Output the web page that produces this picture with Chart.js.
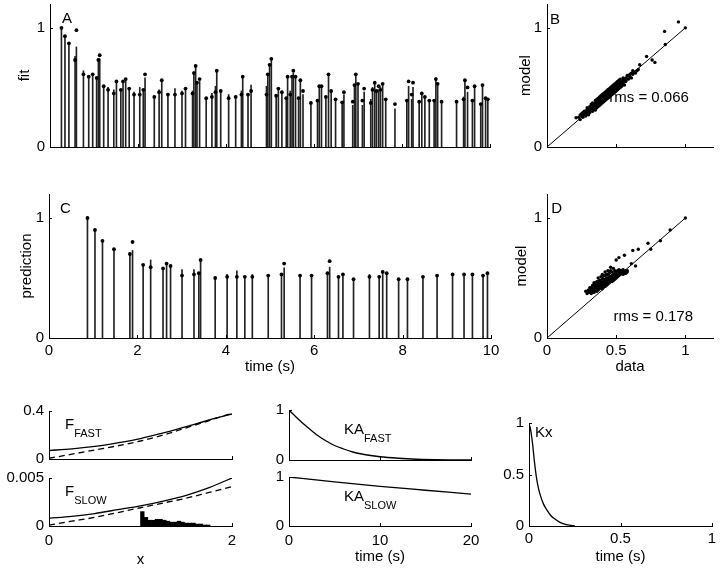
<!DOCTYPE html>
<html><head><meta charset="utf-8">
<script src="https://cdn.jsdelivr.net/npm/chart.js@4"></script>
<style>
html,body{margin:0;padding:0;background:#fff;width:720px;height:573px;overflow:hidden;position:relative}
canvas{position:absolute}
</style></head><body>
<script>
// ---------- Panel A (fit) ----------
const tA = [0.26,0.34,0.43,0.57,0.60,0.76,0.88,0.97,1.06,1.10,1.13,1.22,1.32,1.45,1.51,1.61,1.66,1.72,1.80,1.91,2.04,2.12,2.16,2.37,2.48,2.54,2.68,2.84,3.00,3.08,3.24,3.27,3.31,3.34,3.40,3.55,3.68,3.76,3.79,3.88,4.06,4.22,4.35,4.38,4.50,4.57,4.92,4.95,4.99,5.03,5.14,5.19,5.27,5.37,5.40,5.46,5.50,5.53,5.58,5.65,5.69,5.75,5.93,6.08,6.12,6.17,6.27,6.33,6.39,6.49,6.64,6.68,6.88,6.92,6.95,7.00,7.10,7.14,7.29,7.33,7.38,7.42,7.47,7.51,7.56,7.63,7.84,8.11,8.15,8.22,8.25,8.39,8.45,8.52,8.62,8.73,8.77,8.81,8.90,9.24,9.40,9.43,9.49,9.60,9.65,9.79,9.83,9.90,9.95];
const stemA = [1.00,0.93,0.87,0.76,0.84,0.64,0.60,0.61,0.58,0.73,0.74,0.51,0.50,0.48,0.55,0.48,0.55,0.57,0.50,0.46,0.50,0.48,0.58,0.43,0.48,0.56,0.44,0.49,0.47,0.49,0.47,0.63,0.67,0.55,0.55,0.41,0.45,0.51,0.64,0.47,0.44,0.43,0.47,0.59,0.45,0.52,0.51,0.61,0.69,0.74,0.43,0.50,0.47,0.41,0.59,0.47,0.59,0.62,0.59,0.41,0.56,0.44,0.37,0.39,0.51,0.50,0.42,0.61,0.47,0.39,0.37,0.44,0.35,0.52,0.61,0.53,0.35,0.46,0.40,0.50,0.54,0.47,0.48,0.50,0.53,0.40,0.32,0.39,0.51,0.40,0.50,0.38,0.46,0.42,0.39,0.39,0.58,0.53,0.38,0.38,0.42,0.56,0.46,0.39,0.51,0.36,0.52,0.41,0.40];
const dotA = [1.00,0.93,0.87,0.73,0.98,0.61,0.59,0.61,0.58,0.73,0.77,0.51,0.48,0.45,0.55,0.48,0.55,0.57,0.49,0.44,0.44,0.48,0.61,0.42,0.46,0.56,0.44,0.44,0.45,0.49,0.45,0.62,0.68,0.54,0.57,0.41,0.42,0.46,0.64,0.47,0.41,0.42,0.44,0.59,0.44,0.47,0.44,0.61,0.69,0.74,0.43,0.49,0.46,0.41,0.59,0.44,0.59,0.64,0.59,0.41,0.56,0.47,0.37,0.39,0.51,0.51,0.42,0.61,0.47,0.40,0.375,0.46,0.38,0.52,0.61,0.53,0.39,0.49,0.37,0.48,0.54,0.47,0.51,0.48,0.53,0.40,0.36,0.39,0.55,0.44,0.54,0.38,0.45,0.42,0.39,0.39,0.57,0.53,0.38,0.38,0.40,0.56,0.50,0.39,0.51,0.36,0.52,0.41,0.40];

// ---------- Panel B (model vs data, fit) ----------
const dataB  = [0.21,0.24,0.25,0.26,0.27,0.28,0.28,0.29,0.30,0.30,0.31,0.32,0.32,0.33,0.33,0.34,0.34,0.35,0.35,0.36,0.36,0.37,0.37,0.38,0.38,0.39,0.39,0.40,0.40,0.41,0.41,0.42,0.42,0.43,0.43,0.44,0.44,0.45,0.45,0.46,0.46,0.47,0.47,0.48,0.48,0.49,0.49,0.50,0.50,0.51,0.51,0.52,0.52,0.53,0.53,0.54,0.55,0.56,0.57,0.58,0.59,0.60,0.61,0.62,0.63,0.65,0.72,0.76,0.78,0.855,0.85,0.95,1.00,
  0.23,0.24,0.25,0.26,0.27,0.28,0.29,0.29,0.30,0.31,0.31,0.32,0.33,0.33,0.34,0.35,0.35,0.36,0.36,0.37,0.37,0.38,0.38,0.39,0.39,0.40,0.40,0.41,0.41,0.42,0.42,0.43,0.43,0.44,0.44,0.45,0.45,0.46,0.46,0.47,0.47,0.48,0.48,0.49,0.49,0.50,0.50,0.51,0.51,0.52,0.52,0.53,0.53,0.54,0.54,0.55,0.55,0.56,0.56,0.57,0.58,0.59,0.60,0.61,0.62,0.64,0.66,0.67];
const modelB = [0.245,0.27,0.26,0.29,0.27,0.30,0.28,0.31,0.29,0.32,0.30,0.33,0.31,0.35,0.32,0.34,0.36,0.33,0.37,0.35,0.38,0.36,0.39,0.37,0.40,0.38,0.41,0.39,0.42,0.40,0.43,0.41,0.44,0.42,0.45,0.43,0.46,0.44,0.47,0.45,0.48,0.46,0.49,0.47,0.50,0.48,0.51,0.49,0.52,0.50,0.53,0.51,0.54,0.52,0.55,0.53,0.56,0.55,0.58,0.57,0.60,0.59,0.62,0.61,0.63,0.64,0.76,0.73,0.71,0.86,0.97,1.05,1.00,
  0.25,0.23,0.28,0.25,0.30,0.26,0.28,0.33,0.27,0.34,0.29,0.36,0.30,0.37,0.32,0.39,0.31,0.33,0.40,0.34,0.41,0.35,0.42,0.36,0.43,0.37,0.44,0.38,0.45,0.39,0.46,0.40,0.47,0.41,0.48,0.42,0.49,0.43,0.50,0.44,0.51,0.45,0.52,0.46,0.53,0.47,0.54,0.48,0.55,0.49,0.56,0.50,0.57,0.51,0.55,0.53,0.58,0.52,0.57,0.55,0.60,0.57,0.61,0.58,0.64,0.62,0.65,0.69];

// ---------- Panel C (prediction) ----------
const tC = [0.87,1.04,1.21,1.47,1.83,1.89,2.13,2.30,2.58,2.66,2.75,3.01,3.28,3.39,3.43,3.76,4.03,4.25,4.43,4.60,4.96,5.26,5.32,5.68,5.94,6.30,6.35,6.55,6.65,6.89,7.25,7.47,7.55,7.64,7.91,8.11,8.46,8.78,9.13,9.39,9.58,9.82,9.92];
const stemC = [1.00,0.90,0.81,0.74,0.70,0.73,0.61,0.65,0.58,0.63,0.60,0.57,0.57,0.54,0.65,0.50,0.53,0.56,0.51,0.53,0.52,0.53,0.585,0.52,0.52,0.54,0.59,0.51,0.53,0.49,0.53,0.51,0.53,0.54,0.49,0.49,0.51,0.52,0.53,0.53,0.53,0.52,0.54];
const dotC  = [1.00,0.90,0.81,0.74,0.70,0.80,0.61,0.59,0.58,0.62,0.60,0.52,0.53,0.54,0.65,0.50,0.51,0.51,0.51,0.51,0.52,0.53,0.62,0.52,0.52,0.54,0.64,0.51,0.53,0.49,0.51,0.51,0.55,0.54,0.49,0.49,0.51,0.52,0.53,0.53,0.53,0.52,0.54];

// ---------- Panel D (model vs data, prediction) ----------
const dataD  = [0.28,0.30,0.31,0.32,0.32,0.33,0.34,0.34,0.35,0.35,0.36,0.36,0.37,0.37,0.38,0.38,0.39,0.39,0.40,0.40,0.40,0.41,0.41,0.42,0.42,0.42,0.43,0.43,0.44,0.44,0.45,0.45,0.46,0.46,0.47,0.47,0.48,0.48,0.49,0.49,0.50,0.51,0.52,0.53,0.54,0.55,0.56,0.57,0.58,0.50,0.52,0.56,0.61,0.64,0.62,0.66,0.73,0.75,0.82,0.89,1.00,
  0.29,0.30,0.31,0.31,0.32,0.33,0.33,0.34,0.34,0.35,0.35,0.36,0.36,0.37,0.37,0.37,0.38,0.38,0.39,0.39,0.39,0.40,0.40,0.40,0.41,0.41,0.41,0.42,0.42,0.42,0.43,0.43,0.43,0.44,0.44,0.44,0.45,0.45,0.45,0.46,0.46,0.46,0.47,0.47,0.47,0.48,0.48,0.49,0.49,0.50,0.50,0.51,0.51,0.52,0.52,0.53,0.53,0.54,0.55,0.55,0.56,0.57,0.58];
const modelD = [0.39,0.38,0.40,0.39,0.42,0.41,0.40,0.43,0.42,0.45,0.41,0.44,0.43,0.47,0.42,0.45,0.44,0.48,0.43,0.46,0.50,0.45,0.49,0.44,0.47,0.52,0.46,0.50,0.48,0.53,0.47,0.51,0.49,0.56,0.48,0.52,0.50,0.58,0.51,0.54,0.52,0.53,0.55,0.54,0.56,0.55,0.54,0.56,0.55,0.65,0.67,0.69,0.62,0.60,0.73,0.74,0.79,0.74,0.81,0.90,1.00,
  0.37,0.40,0.38,0.42,0.37,0.39,0.44,0.38,0.46,0.40,0.43,0.39,0.47,0.40,0.45,0.50,0.41,0.48,0.42,0.46,0.51,0.41,0.45,0.53,0.43,0.47,0.52,0.43,0.49,0.55,0.44,0.48,0.53,0.45,0.50,0.56,0.46,0.49,0.54,0.47,0.51,0.59,0.47,0.50,0.55,0.48,0.53,0.49,0.56,0.50,0.54,0.51,0.56,0.52,0.57,0.53,0.56,0.54,0.53,0.57,0.55,0.54,0.56];
const diagX = [0, 1];
const diagY = [0, 1];

// ---------- F_FAST / F_SLOW ----------
const fX        = [0, 0.25, 0.5, 0.75, 1, 1.25, 1.5, 1.75, 2];
const fFastFit  = [0.070,0.085,0.105,0.135,0.170,0.218,0.270,0.325,0.375];
const fFastTrue = [0.006,0.040,0.075,0.110,0.150,0.200,0.260,0.320,0.382];
const fSlowFit  = [0.0008,0.0010,0.0013,0.0017,0.0021,0.0026,0.0032,0.0040,0.0050];
const fSlowTrue = [0.0001,0.0005,0.0009,0.0014,0.0019,0.0024,0.0029,0.0035,0.0041];
const histX = [1.02,1.06,1.10,1.14,1.18,1.22,1.26,1.30,1.34,1.38,1.42,1.46,1.50,1.54,1.58,1.62,1.66,1.70,1.74];
const histY = [0.0015,0.0009,0.0006,0.0006,0.0007,0.0007,0.0006,0.0005,0.0004,0.0004,0.0005,0.0004,0.0003,0.0003,0.0003,0.0002,0.0002,0.0001,0.0001];

// ---------- KA_FAST / KA_SLOW ----------
const kaT     = [0,1,2,3,4,5,6,7,8,9,10,12,14,16,18,20];
const kaFast  = [1,0.82,0.66,0.51,0.39,0.29,0.22,0.16,0.12,0.09,0.065,0.035,0.015,0.006,0.002,0];
const kaSlowT = [0,5,10,15,20];
const kaSlow  = [1.0,0.90,0.81,0.73,0.65];

// ---------- Kx ----------
const kxT = [0.005,0.012,0.02,0.03,0.04,0.05,0.06,0.08,0.10,0.12,0.14,0.16,0.19,0.22,0.25];
const kx  = [0.97,0.90,0.79,0.62,0.48,0.38,0.31,0.21,0.15,0.10,0.07,0.045,0.02,0.008,0.003];

// ---------- tick values / labels ----------
const ticks01 = [0, 1], labels01 = ['0', '1'];
const ticksTime = [0, 2, 4, 6, 8, 10], labelsTime = ['0', '2', '4', '6', '8', '10'];
const ticksData = [0, 0.5, 1], labelsData = ['0', '0.5', '1'];
const ticksFFast = [0, 0.4], labelsFFast = ['0', '0.4'];
const ticksFSlow = [0, 0.005], labelsFSlow = ['0', '0.005'];
const ticksX = [0, 2], labelsX = ['0', '2'];
const ticksKA = [0, 10, 20], labelsKA = ['0', '10', '20'];
const ticksKx = [0, 0.5, 1], labelsKx = ['0', '0.5', '1'];

const FONT = "'Liberation Sans', Arial, Helvetica, sans-serif";
Chart.defaults.font.family = FONT;
Chart.defaults.font.size = 15;
Chart.defaults.color = '#000';

const pts = (xs, ys) => xs.map((x, i) => ({x, y: ys[i]}));

const inwardTicks = {
  id: 'inwardTicks',
  afterDraw(chart) {
    const ctx = chart.ctx, xs = chart.scales.x, ys = chart.scales.y;
    ctx.save(); ctx.strokeStyle = '#000'; ctx.lineWidth = 1; ctx.beginPath();
    xs.ticks.forEach(t => { const p = Math.round(xs.getPixelForValue(t.value)) + 0.5; ctx.moveTo(p, ys.bottom); ctx.lineTo(p, ys.bottom - 3); });
    ys.ticks.forEach(t => { const p = Math.round(ys.getPixelForValue(t.value)) + 0.5; ctx.moveTo(xs.left, p); ctx.lineTo(xs.left + 3, p); });
    ctx.stroke(); ctx.restore();
  }
};
function textPlugin(items) {
  return {
    id: 'panelText',
    afterDatasetsDraw(chart) {
      const ctx = chart.ctx, xs = chart.scales.x, ys = chart.scales.y;
      items.forEach(it => {
        const px = xs.getPixelForValue(it.x), py = ys.getPixelForValue(it.y);
        ctx.save(); ctx.fillStyle = '#000'; ctx.textBaseline = 'middle'; ctx.textAlign = 'left';
        ctx.font = (it.size || 15) + 'px ' + FONT;
        ctx.fillText(it.text, px, py);
        if (it.sub) {
          const w = ctx.measureText(it.text).width;
          ctx.font = '11px ' + FONT;
          ctx.fillText(it.sub, px + w, py + 9);
        }
        ctx.restore();
      });
    }
  };
}
function axis(a, dir, size) {
  return {
    type: 'linear', min: a.min, max: a.max, offset: false,
    grid: {display: false, drawTicks: false},
    border: {display: true, color: '#000', width: 1},
    ticks: {display: !!a.labels, autoSkip: false, maxRotation: 0, minRotation: 0, padding: a.pad == null ? 5 : a.pad,
            callback: (v, i) => a.labels ? a.labels[i] : ''},
    title: a.title ? {display: true, text: a.title, padding: 0, font: {size: 15}} : {display: false},
    afterBuildTicks: s => { s.ticks = a.ticks.map(v => ({value: v})); },
    afterFit: s => {
      if (dir === 'x') s.height = size; else s.width = size;
      s.paddingLeft = 0; s.paddingRight = 0; s.paddingTop = 0; s.paddingBottom = 0;
    }
  };
}
function panel(o) {
  const padTop = o.padTop == null ? 10 : o.padTop, padRight = o.padRight == null ? 10 : o.padRight;
  const left = o.l - o.W, top = o.t - padTop;
  const w = o.r - left + padRight, h = o.b + o.H - top;
  const c = document.createElement('canvas');
  c.style.left = left + 'px'; c.style.top = top + 'px';
  c.style.width = w + 'px'; c.style.height = h + 'px';
  c.width = w; c.height = h;
  document.body.appendChild(c);
  new Chart(c, {
    type: 'scatter',
    data: {datasets: o.datasets},
    options: {
      responsive: false, animation: false, devicePixelRatio: 1,
      layout: {padding: {top: padTop, right: padRight, left: 0, bottom: 0}},
      plugins: {legend: {display: false}, tooltip: {enabled: false}},
      events: [],
      scales: {x: axis(o.x, 'x', o.H), y: axis(o.y, 'y', o.W)}
    },
    plugins: [inwardTicks, textPlugin(o.text || [])]
  });
}
const dots = (xs, ys, r) => ({type: 'scatter', data: pts(xs, ys), pointRadius: r, pointBackgroundColor: '#000', pointBorderWidth: 0, clip: false});
const stems = (xs, ys) => ({type: 'bar', data: pts(xs, ys), barThickness: 1, backgroundColor: '#222', borderWidth: 0});
const line = (xs, ys, dash, w) => ({type: 'line', data: pts(xs, ys), showLine: true, borderColor: '#000', borderWidth: w || 1.3, borderDash: dash || [], pointRadius: 0, fill: false, cubicInterpolationMode: 'monotone'});

// A
panel({l: 50, t: 3, r: 490, b: 147, W: 34, H: 12, padTop: 3,
  x: {min: 0, max: 10, ticks: ticksTime},
  y: {min: 0, max: 1.2, ticks: ticks01, labels: labels01, title: 'fit'},
  datasets: [dots(tA, dotA, 1.9), stems(tA, stemA)],
  text: [{text: 'A', x: 0.27, y: 1.075}]});
// B
panel({l: 547, t: 3, r: 713, b: 147, W: 30, H: 12, padTop: 3, padRight: 7,
  x: {min: 0, max: 1.2, ticks: ticksData},
  y: {min: 0, max: 1.2, ticks: ticks01, labels: labels01, title: 'model'},
  datasets: [dots(dataB, modelB, 1.7), line(diagX, diagY, null, 1)],
  text: [{text: 'B', x: 0.022, y: 1.07}, {text: 'rms = 0.066', x: 0.45, y: 0.41}]});
// C
panel({l: 49, t: 194, r: 491, b: 338, W: 31, H: 38,
  x: {min: 0, max: 10, ticks: ticksTime, labels: labelsTime, title: 'time (s)', pad: 4},
  y: {min: 0, max: 1.2, ticks: ticks01, labels: labels01, title: 'prediction'},
  datasets: [dots(tC, dotC, 1.9), stems(tC, stemC)],
  text: [{text: 'C', x: 0.25, y: 1.08}]});
// D
panel({l: 547, t: 194, r: 713, b: 338, W: 34, H: 38, padRight: 7,
  x: {min: 0, max: 1.2, ticks: ticksData, labels: labelsData, title: 'data', pad: 4},
  y: {min: 0, max: 1.2, ticks: ticks01, labels: labels01, title: 'model'},
  datasets: [dots(dataD, modelD, 1.7), line(diagX, diagY, null, 1)],
  text: [{text: 'D', x: 0.03, y: 1.08}, {text: 'rms = 0.178', x: 0.48, y: 0.18}]});
// F_FAST
panel({l: 49, t: 411, r: 232, b: 459, W: 49, H: 10,
  x: {min: 0, max: 2, ticks: ticksX},
  y: {min: 0, max: 0.4, ticks: ticksFFast, labels: labelsFFast},
  datasets: [line(fX, fFastFit), line(fX, fFastTrue, [6, 4])],
  text: [{text: 'F', sub: 'FAST', x: 0.175, y: 0.283}]});
// F_SLOW
panel({l: 49, t: 478, r: 232, b: 526, W: 49, H: 43,
  x: {min: 0, max: 2, ticks: ticksX, labels: labelsX, title: 'x', pad: 6},
  y: {min: 0, max: 0.005, ticks: ticksFSlow, labels: labelsFSlow},
  datasets: [line(fX, fSlowFit), line(fX, fSlowTrue, [6, 4]),
    {type: 'bar', data: pts(histX, histY), barPercentage: 1, categoryPercentage: 1, backgroundColor: '#000', borderWidth: 0}],
  text: [{text: 'F', sub: 'SLOW', x: 0.175, y: 0.00354}]});
// KA_FAST
panel({l: 289, t: 410, r: 471, b: 460, W: 39, H: 10,
  x: {min: 0, max: 20, ticks: ticksKA},
  y: {min: 0, max: 1, ticks: ticks01, labels: labels01},
  datasets: [line(kaT, kaFast)],
  text: [{text: 'KA', sub: 'FAST', x: 6.04, y: 0.6}]});
// KA_SLOW
panel({l: 289, t: 477, r: 471, b: 526, W: 39, H: 40,
  x: {min: 0, max: 20, ticks: ticksKA, labels: labelsKA, title: 'time (s)', pad: 6},
  y: {min: 0, max: 1, ticks: ticks01, labels: labels01},
  datasets: [line(kaSlowT, kaSlow)],
  text: [{text: 'KA', sub: 'SLOW', x: 6.04, y: 0.59}]});
// Kx
panel({l: 529, t: 423, r: 712, b: 526, W: 40, H: 40, padRight: 8,
  x: {min: 0, max: 1, ticks: ticksKx, labels: labelsKx, title: 'time (s)', pad: 4},
  y: {min: 0, max: 1, ticks: ticksKx, labels: labelsKx},
  datasets: [line(kxT, kx)],
  text: [{text: 'Kx', x: 0.033, y: 0.90}]});
</script>
</body></html>
